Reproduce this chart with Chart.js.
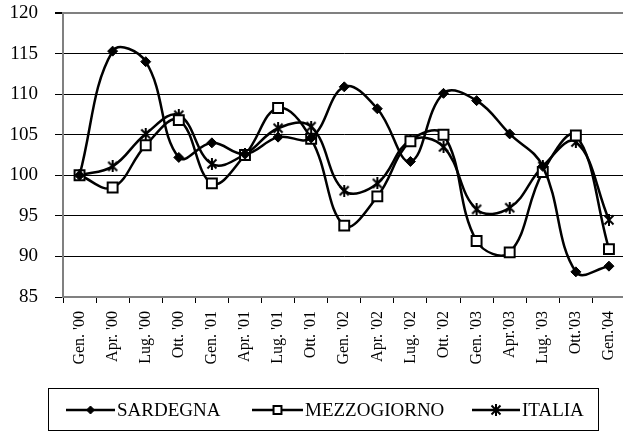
<!DOCTYPE html>
<html>
<head>
<meta charset="utf-8">
<script src="https://cdn.jsdelivr.net/npm/chart.js@4"></script>
<style>
  html, body { margin: 0; padding: 0; background: #fff; overflow: hidden; width: 623px; height: 432px; }
  #wrap { position: relative; width: 640px; height: 432px; }
</style>
</head>
<body>
<div id="wrap"><canvas id="myChart" width="640" height="432"></canvas></div>
<script>
// quarterly index values, Gen. 2000 = 100
const labels = ["Gen. '00", "Apr. '00", "Lug. '00", "Ott. '00", "Gen. '01", "Apr. '01", "Lug. '01", "Ott. '01",
  "Gen. '02", "Apr. '02", "Lug. '02", "Ott. '02", "Gen. '03", "Apr.'03", "Lug. '03", "Ott.'03", "Gen.'04"];
const sardegna = [100, 115.3, 114.0, 102.2, 104.0, 102.6, 104.7, 104.6, 110.9, 108.2, 101.7, 110.1, 109.2, 105.1, 101.1, 88.1, 88.8];
const mezzogiorno = [100, 98.5, 103.7, 106.8, 99.0, 102.5, 108.3, 104.5, 93.8, 97.4, 104.2, 105.0, 91.9, 90.5, 100.4, 104.9, 90.9];
const italia = [100, 101.1, 105.1, 107.4, 101.4, 102.6, 105.8, 106.0, 98.1, 99.0, 104.3, 103.5, 95.8, 96.0, 101.1, 104.1, 94.5];
const yTicks = [85, 90, 95, 100, 105, 110, 115, 120];

Chart.defaults.font.family = "'Liberation Serif', 'Times New Roman', serif";
Chart.defaults.color = '#000';

// asterisk marker like the spreadsheet one (X plus a vertical bar)
function makeStar(size) {
  const c = document.createElement('canvas');
  c.width = c.height = size;
  const g = c.getContext('2d');
  g.strokeStyle = '#000';
  g.lineWidth = 2;
  g.beginPath();
  g.moveTo(1.5, 1.5); g.lineTo(size - 1.5, size - 1.5);
  g.moveTo(size - 1.5, 1.5); g.lineTo(1.5, size - 1.5);
  g.moveTo(size / 2, 0); g.lineTo(size / 2, size);
  g.stroke();
  return c;
}
const starMark = makeStar(12);

// boxed legend under the axis, line + marker + name
const boxLegend = {
  id: 'boxLegend',
  afterDraw(chart) {
    const ctx = chart.ctx;
    const items = [
      { x0: 66, x1: 115, tx: 117 },
      { x0: 252, x1: 303, tx: 305 },
      { x0: 472, x1: 520, tx: 522 },
    ];
    const y = 410;
    ctx.save();
    ctx.strokeStyle = '#000';
    ctx.lineWidth = 1;
    ctx.strokeRect(48.5, 388.5, 550, 42);
    chart.data.datasets.forEach((ds, i) => {
      const it = items[i];
      ctx.strokeStyle = '#000';
      ctx.lineWidth = 2.5;
      ctx.beginPath();
      ctx.moveTo(it.x0, y);
      ctx.lineTo(it.x1, y);
      ctx.stroke();
      ctx.fillStyle = ds.pointBackgroundColor;
      ctx.strokeStyle = '#000';
      ctx.lineWidth = ds.pointBorderWidth;
      Chart.helpers.drawPoint(ctx, {
        pointStyle: ds.pointStyle,
        radius: ds.pointRadius * 0.8,
        rotation: 0,
        borderWidth: ds.pointBorderWidth
      }, (it.x0 + it.x1) / 2, y);
      ctx.fillStyle = '#000';
      ctx.font = "19px 'Liberation Serif', 'Times New Roman', serif";
      ctx.textBaseline = 'middle';
      ctx.textAlign = 'left';
      ctx.fillText(ds.label, it.tx, y + 1);
    });
    ctx.restore();
  }
};

const ctx = document.getElementById('myChart').getContext('2d');
new Chart(ctx, {
  type: 'line',
  data: {
    labels: labels,
    datasets: [
      {
        label: 'SARDEGNA',
        data: sardegna,
        borderColor: '#000',
        borderWidth: 2.5,
        pointStyle: 'rectRot',
        pointRadius: 5,
        pointBackgroundColor: '#000',
        pointBorderColor: '#000',
        pointBorderWidth: 1,
        tension: 0.4,
      },
      {
        label: 'MEZZOGIORNO',
        data: mezzogiorno,
        borderColor: '#000',
        borderWidth: 2.5,
        pointStyle: 'rect',
        pointRadius: 7,
        pointBackgroundColor: '#fff',
        pointBorderColor: '#000',
        pointBorderWidth: 2,
        tension: 0.4,
      },
      {
        label: 'ITALIA',
        data: italia,
        borderColor: '#000',
        borderWidth: 2.5,
        pointStyle: starMark,
        pointRadius: 5,
        pointBackgroundColor: '#000',
        pointBorderColor: '#000',
        pointBorderWidth: 2,
        tension: 0.4,
      },
    ],
  },
  options: {
    responsive: false,
    animation: false,
    // canvas is wider than the window: the plot runs past the right edge, as in the original
    layout: { autoPadding: false, padding: { top: 13, right: 14.5, left: 0, bottom: 0 } },
    plugins: {
      legend: { display: false },
      tooltip: { enabled: false },
    },
    scales: {
      x: {
        offset: true,
        grid: {
          display: true,
          drawOnChartArea: false,
          drawTicks: true,
          tickLength: 6,
          tickColor: '#000',
          offset: true,
        },
        border: { color: '#808080', width: 2 },
        ticks: {
          autoSkip: false,
          minRotation: 90,
          maxRotation: 90,
          padding: 8,
          font: { size: 16 },
        },
        afterFit(scale) {
          scale.height = 135;
          scale.paddingLeft = 0;
          scale.paddingRight = 0;
        },
      },
      y: {
        min: 85,
        max: 120,
        afterBuildTicks(scale) { scale.ticks = yTicks.map(v => ({ value: v })); },
        grid: {
          color: c => (c.tick && c.tick.value === 120 ? '#808080' : '#000'),
          lineWidth: c => (c.tick && c.tick.value === 120 ? 2 : 1),
          tickLength: 8,
          tickColor: '#000',
        },
        border: { color: '#808080', width: 2 },
        ticks: {
          padding: 17,
          font: { size: 19 },
        },
        afterFit(scale) {
          scale.width = 63;
          scale.paddingTop = 0;
          scale.paddingBottom = 0;
        },
      },
    },
  },
  plugins: [boxLegend],
});
</script>
</body>
</html>
